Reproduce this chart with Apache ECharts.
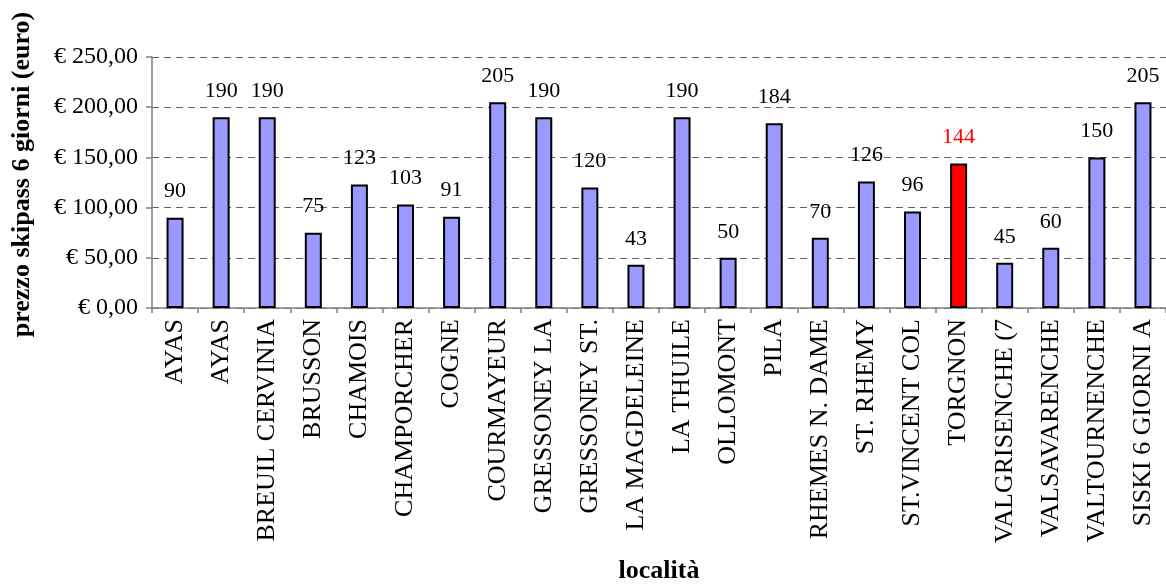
<!DOCTYPE html>
<html>
<head>
<meta charset="utf-8">
<script src="https://cdn.jsdelivr.net/npm/echarts@6/dist/echarts.min.js"></script>
<style>
  html, body { margin: 0; padding: 0; background: #fff; }
  #chart { width: 1166px; height: 585px; }
</style>
</head>
<body>
<div id="chart"></div>
<script>
// Six-day ski pass prices by resort (euro)
const categories = [
  'AYAS', 'AYAS', 'BREUIL CERVINIA', 'BRUSSON', 'CHAMOIS', 'CHAMPORCHER',
  'COGNE', 'COURMAYEUR', 'GRESSONEY LA', 'GRESSONEY ST.', 'LA MAGDELEINE',
  'LA THUILE', 'OLLOMONT', 'PILA', 'RHEMES N. DAME', 'ST. RHEMY',
  'ST.VINCENT COL', 'TORGNON', 'VALGRISENCHE (7', 'VALSAVARENCHE',
  'VALTOURNENCHE', 'SISKI 6 GIORNI A'
];
const prices = [90, 190, 190, 75, 123, 103, 91, 205, 190, 120, 43, 190, 50, 184, 70, 126, 96, 144, 45, 60, 150, 205];
const highlighted = 'TORGNON';
const yTicks = { min: 0, max: 250, step: 50 };

const FONT = '"Liberation Serif", "Times New Roman", serif';
const BAR = '#9999FF';
const HIGHLIGHT = '#FF0000';

const chart = echarts.init(document.getElementById('chart'), null, { renderer: 'canvas' });

const seriesData = prices.map((v, i) => {
  const hot = categories[i] === highlighted;
  return {
    value: v,
    itemStyle: { color: hot ? HIGHLIGHT : BAR },
    label: { color: hot ? HIGHLIGHT : '#000' }
  };
});

chart.setOption({
  animation: false,
  backgroundColor: '#fff',
  grid: { left: 152, top: 57, width: 1022, height: 254, containLabel: false },
  xAxis: {
    type: 'category',
    data: categories,
    name: 'località',
    nameLocation: 'middle',
    nameGap: 250,
    nameTextStyle: { fontFamily: FONT, fontSize: 26, fontWeight: 'bold', color: '#000' },
    axisLine: { lineStyle: { color: '#808080', width: 1.5 } },
    axisTick: { show: true, length: 5, alignWithLabel: false, lineStyle: { color: '#808080', width: 1.5 } },
    axisLabel: {
      interval: 0, rotate: 90, margin: 11,
      fontFamily: FONT, fontSize: 26, color: '#000'
    },
    splitLine: { show: false }
  },
  yAxis: {
    type: 'value',
    min: yTicks.min, max: yTicks.max, interval: yTicks.step,
    name: 'prezzo skipass 6 giorni (euro)',
    nameLocation: 'middle',
    nameGap: 117,
    nameTextStyle: {
      fontFamily: FONT, fontSize: 26, fontWeight: 'bold', color: '#000',
      padding: [0, 0, 0, 16]
    },
    axisLine: { show: true, lineStyle: { color: '#808080', width: 1.5 } },
    axisTick: { show: true, length: 6, lineStyle: { color: '#808080', width: 1.5 } },
    axisLabel: {
      margin: 14,
      fontFamily: FONT, fontSize: 24, color: '#000',
      formatter: v => '€ ' + v.toFixed(2).replace('.', ',')
    },
    splitLine: { show: true, lineStyle: { color: '#606060', width: 1.2, type: [7, 5] } }
  },
  series: [{
    type: 'bar',
    data: seriesData,
    barWidth: 17,
    itemStyle: { borderColor: '#000', borderWidth: 2 },
    label: {
      show: true, position: 'top', distance: 15,
      fontFamily: FONT, fontSize: 22
    }
  }]
});
</script>
</body>
</html>
